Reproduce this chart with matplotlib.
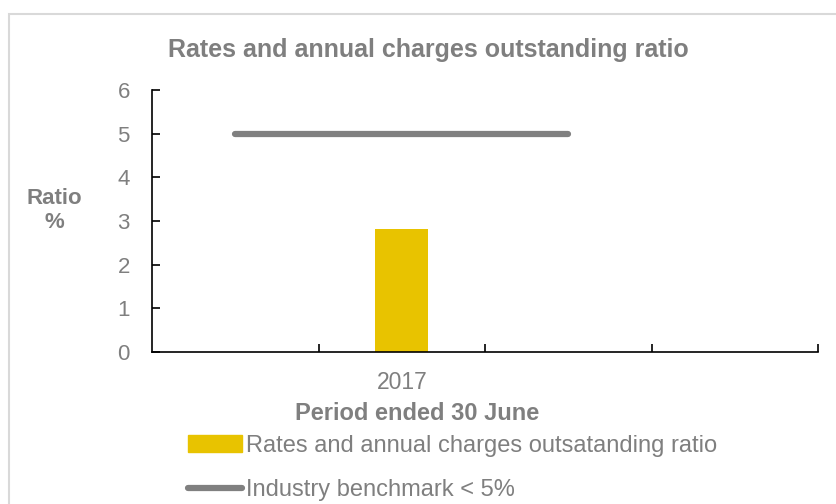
import matplotlib
matplotlib.use("Agg")
import matplotlib.pyplot as plt
from matplotlib.patches import Rectangle, Patch
from matplotlib.lines import Line2D

# data
categories = ["", "2017", "", ""]
bar_values = [None, 2.82, None, None]
benchmark = [5, 5, 5]
bar_label = "Rates and annual charges outsatanding ratio"
line_label = "Industry benchmark < 5%"

txt = "#7f7f7f"
plt.rcParams["font.family"] = ["Liberation Sans", "DejaVu Sans"]

fig = plt.figure(figsize=(8.37, 5.04), dpi=100)
fig.patches.append(Rectangle((9 / 837, -0.1), 1.2, 1 - 14 / 504 + 0.1, transform=fig.transFigure,
                             fill=False, edgecolor="#d9d9d9", linewidth=1.5))

ax = fig.add_axes([152 / 837, 1 - 352 / 504, 666 / 837, 262 / 504])
x = list(range(len(categories)))
bx = [i for i, v in zip(x, bar_values) if v is not None]
bv = [v for v in bar_values if v is not None]
ax.bar(bx, bv, width=0.32, color="#e8c300", label=bar_label)
ax.plot(x[:len(benchmark)], benchmark, color="#808080", linewidth=4.5, solid_capstyle="round", label=line_label)

ax.set_xlim(-0.5, len(categories) - 0.5)
ax.set_ylim(0, 6)
ax.set_yticks(range(0, 7))
ax.set_xticks([i + 0.5 for i in x])
ax.set_xticklabels([])
ax.set_xticks(x, minor=True)
ax.set_xticklabels(categories, minor=True)
ax.tick_params(axis="x", which="major", direction="in", length=6, width=1.2)
ax.tick_params(axis="x", which="minor", length=0, pad=14, labelsize=16.5, labelcolor=txt)
ax.tick_params(axis="y", direction="in", length=6, width=1.2, pad=16, labelsize=16, labelcolor=txt)
for s in ["top", "right"]:
    ax.spines[s].set_visible(False)
for s in ["left", "bottom"]:
    ax.spines[s].set_linewidth(1.2)

fig.text(428 / 837, 1 - 50 / 504, "Rates and annual charges outstanding ratio", fontsize=18,
         fontweight="bold", color=txt, ha="center", va="center")
ax.set_xlabel("Period ended 30 June", fontsize=17, fontweight="bold", color=txt, va="center")
ax.xaxis.set_label_coords(0.398, -0.235)
ax.set_ylabel("Ratio\n%", fontsize=16, fontweight="bold", color=txt, rotation=0, ha="center", va="center")
ax.yaxis.set_label_coords(-0.146, 0.54)

handles = [Patch(color="#e8c300"), Line2D([0], [0], color="#808080", linewidth=4.5, solid_capstyle="round")]
leg = fig.legend(handles, [bar_label, line_label], loc="upper left", bbox_to_anchor=(188 / 837, 1 - 435 / 504),
                 frameon=False, fontsize=17, handlelength=2.3, handletextpad=0.15, labelspacing=0.95,
                 borderpad=0, borderaxespad=0)
for t in leg.get_texts():
    t.set_color(txt)

fig.savefig("out.png", dpi=100)
